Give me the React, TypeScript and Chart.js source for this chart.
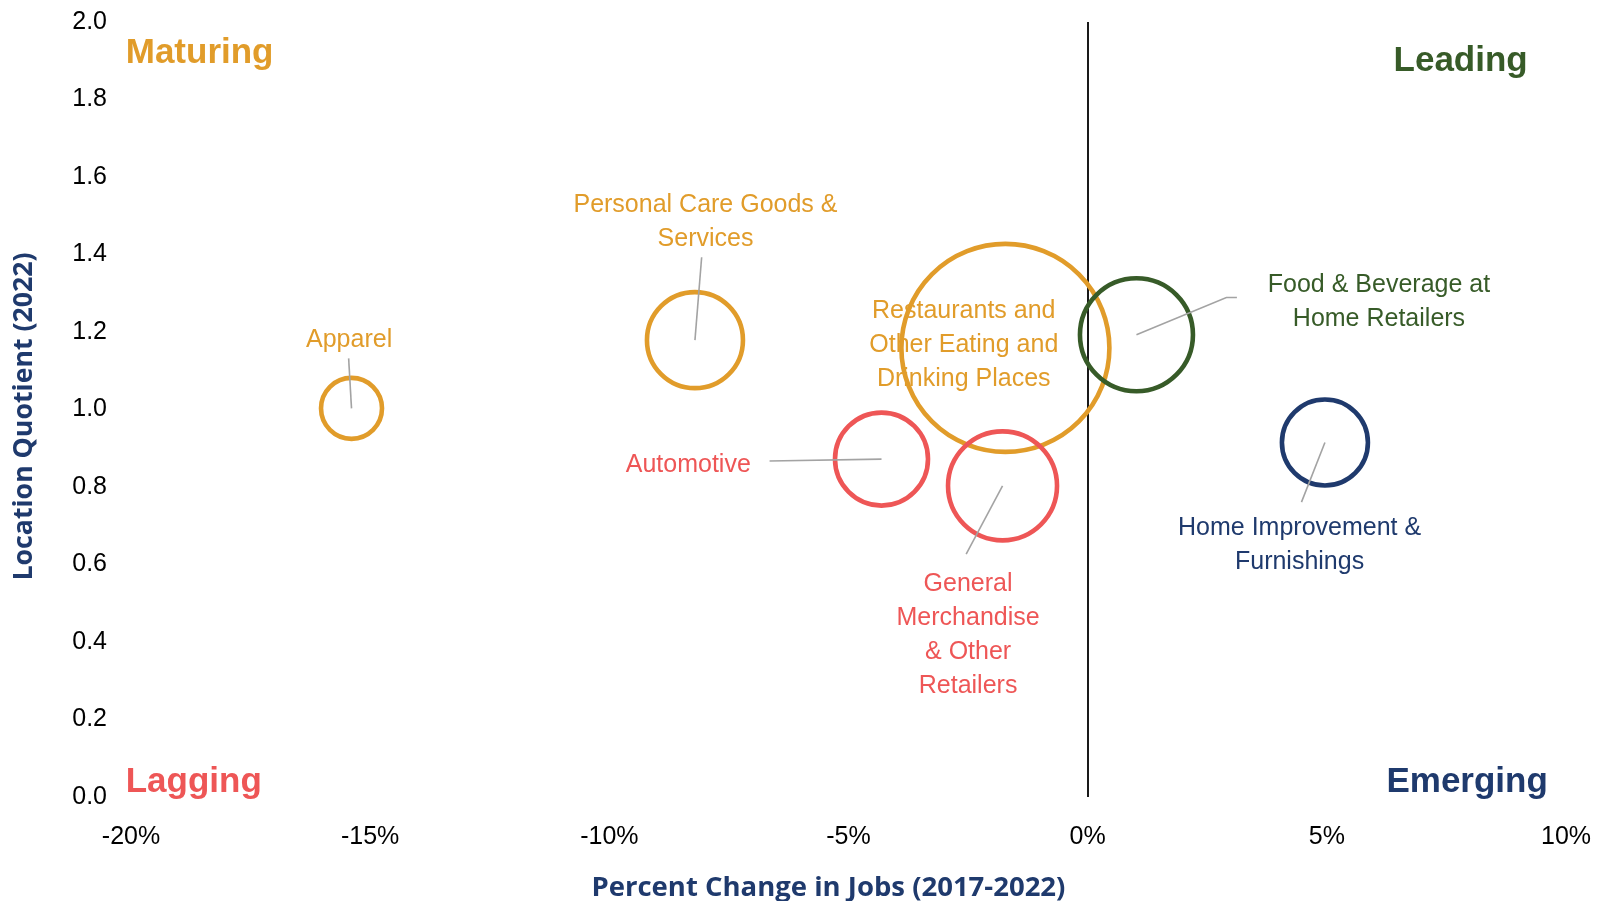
import React, { useEffect, useRef } from "react";
import { Chart, registerables } from "chart.js";

Chart.register(...registerables);

// ---- data ----
const categories = [
  "Apparel",
  "Personal Care Goods & Services",
  "Restaurants and Other Eating and Drinking Places",
  "Automotive",
  "General Merchandise & Other Retailers",
  "Food & Beverage at Home Retailers",
  "Home Improvement & Furnishings",
];
const pctChangeJobs = [-15.39, -8.21, -1.72, -4.31, -1.78, 1.02, 4.96];
const locationQuotient = [1.003, 1.179, 1.159, 0.872, 0.803, 1.193, 0.915];
const bubbleSize = [30.5, 48, 104, 46.5, 54.5, 56.5, 43];
const quadrantOf = ["Maturing", "Maturing", "Maturing", "Lagging", "Lagging", "Leading", "Emerging"];

const xTicksMin = -20;
const xTicksMax = 10;
const xTickStep = 5;
const yTicksMin = 0;
const yTicksMax = 2;
const yTickStep = 0.2;

const labelLines = [
  ["Apparel"],
  ["Personal Care Goods &", "Services"],
  ["Restaurants and", "Other Eating and", "Drinking Places"],
  ["Automotive"],
  ["General", "Merchandise", "& Other", "Retailers"],
  ["Food & Beverage at", "Home Retailers"],
  ["Home Improvement &", "Furnishings"],
];

// label anchor (centre of first line), in data units
const labelAnchorX = [-15.44, -7.99, -2.59, -8.35, -2.5, 6.09, 4.43];
const labelAnchorY = [1.178, 1.527, 1.253, 0.856, 0.55, 1.321, 0.695];

// leader line points (after the bubble centre), in data units
const leaderPoints: number[][][] = [
  [[-15.45, 1.132]],
  [[-8.07, 1.393]],
  [],
  [[-6.65, 0.867]],
  [[-2.54, 0.627]],
  [[2.9, 1.289], [3.12, 1.289]],
  [[4.47, 0.761]],
];

const quadrantNames = ["Maturing", "Leading", "Lagging", "Emerging"];
const quadrantX = [-20.11, 9.2, -20.11, 9.62];
const quadrantY = [1.894, 1.874, 0.0137, 0.0137];
const quadrantAlign: CanvasTextAlign[] = ["left", "right", "left", "right"];

const xTitle = "Percent Change in Jobs (2017-2022)";
const yTitle = "Location Quotient (2022)";

// ---- styles ----
const COLORS: Record<string, string> = {
  Maturing: "#E19C2A",
  Lagging: "#EE5656",
  Leading: "#375B28",
  Emerging: "#1F3A6D",
};
const TITLE_COLOR = "#1F3A6D";
const LEADER_COLOR = "#A3A3A3";
const FONT = "'Liberation Sans', Arial, sans-serif";
const TITLE_FONT = "'Open Sans', 'Liberation Sans', sans-serif";
const LABEL_SIZE = 25;
const LINE_H = 34;

const annotatePlugin = {
  id: "annotate",
  beforeDatasetsDraw(chart: any) {
    const { ctx, scales } = chart;
    const xs = scales.x;
    const ys = scales.y;
    ctx.save();
    ctx.font = `${LABEL_SIZE}px ${FONT}`;
    ctx.textAlign = "center";
    ctx.textBaseline = "middle";
    labelLines.forEach((lines, i) => {
      ctx.fillStyle = COLORS[quadrantOf[i]];
      const px = xs.getPixelForValue(labelAnchorX[i]);
      const py = ys.getPixelForValue(labelAnchorY[i]);
      lines.forEach((t, k) => ctx.fillText(t, px, py + k * LINE_H));
    });
    ctx.font = `bold 35px ${FONT}`;
    ctx.textBaseline = "alphabetic";
    quadrantNames.forEach((q, i) => {
      ctx.fillStyle = COLORS[q];
      ctx.textAlign = quadrantAlign[i];
      ctx.fillText(q, xs.getPixelForValue(quadrantX[i]), ys.getPixelForValue(quadrantY[i]));
    });
    ctx.restore();
  },
  afterDatasetsDraw(chart: any) {
    const { ctx, scales } = chart;
    const xs = scales.x;
    const ys = scales.y;
    ctx.save();
    ctx.strokeStyle = LEADER_COLOR;
    ctx.lineWidth = 1.6;
    leaderPoints.forEach((pts, i) => {
      if (!pts.length) return;
      ctx.beginPath();
      ctx.moveTo(xs.getPixelForValue(pctChangeJobs[i]), ys.getPixelForValue(locationQuotient[i]));
      pts.forEach((p) => ctx.lineTo(xs.getPixelForValue(p[0]), ys.getPixelForValue(p[1])));
      ctx.stroke();
    });
    ctx.restore();
  },
  afterDraw(chart: any) {
    const { ctx, chartArea } = chart;
    ctx.save();
    ctx.fillStyle = TITLE_COLOR;
    ctx.font = `bold 27.5px ${TITLE_FONT}`;
    ctx.textAlign = "center";
    ctx.textBaseline = "middle";
    ctx.fillText(xTitle, chartArea.left + (chartArea.right - chartArea.left) * 0.486, chartArea.bottom + 91);
    ctx.font = `bold 26.7px ${TITLE_FONT}`;
    ctx.translate(24.5, chartArea.top + (chartArea.bottom - chartArea.top) * 0.509);
    ctx.rotate(-Math.PI / 2);
    ctx.fillText(yTitle, 0, 0);
    ctx.restore();
  },
};

export default function App() {
  const ref = useRef<HTMLCanvasElement | null>(null);
  useEffect(() => {
    if (!ref.current) return;
    const chart = new Chart(ref.current, {
      type: "bubble",
      data: {
        datasets: [
          {
            label: "Industries",
            data: categories.map((c, i) => ({ x: pctChangeJobs[i], y: locationQuotient[i], r: bubbleSize[i] })),
            backgroundColor: "rgba(0,0,0,0)",
            borderColor: quadrantOf.map((q) => COLORS[q]),
            borderWidth: 4.6,
            hoverBorderWidth: 4.6,
            hoverRadius: 0,
          } as any,
        ],
      },
      options: {
        responsive: false,
        animation: false,
        devicePixelRatio: 1,
        clip: false as any,
        layout: { autoPadding: false, padding: { left: 0, right: 32, top: 22, bottom: 0 } },
        plugins: { legend: { display: false }, tooltip: { enabled: false } },
        scales: {
          x: {
            type: "linear",
            min: xTicksMin,
            max: xTicksMax,
            ticks: {
              stepSize: xTickStep,
              callback: (v: any) => `${v}%`,
              font: { family: FONT, size: LABEL_SIZE },
              color: "#000",
              padding: 25,
              maxRotation: 0,
            },
            grid: {
              drawTicks: false,
              color: (c: any) => (c.tick && Math.abs(c.tick.value) < 1e-9 ? "#1a1a1a" : "rgba(0,0,0,0)"),
              lineWidth: 2,
            },
            border: { display: false },
            afterFit: (s: any) => {
              s.height = 104;
              s.paddingLeft = 0;
              s.paddingRight = 0;
            },
          },
          y: {
            type: "linear",
            min: yTicksMin,
            max: yTicksMax,
            ticks: {
              stepSize: yTickStep,
              callback: (v: any) => Number(v).toFixed(1),
              font: { family: FONT, size: LABEL_SIZE },
              color: "#000",
              padding: 24,
            },
            grid: { display: false, drawTicks: false },
            border: { display: false },
            afterFit: (s: any) => {
              s.width = 131;
              s.paddingTop = 0;
              s.paddingBottom = 0;
            },
          },
        },
      },
      plugins: [annotatePlugin],
    });
    return () => chart.destroy();
  }, []);
  return (
    <div style={{ position: "fixed", left: 0, top: 0, width: 1598, height: 901, background: "#fff" }}>
      <canvas ref={ref} width={1598} height={901} />
    </div>
  );
}
